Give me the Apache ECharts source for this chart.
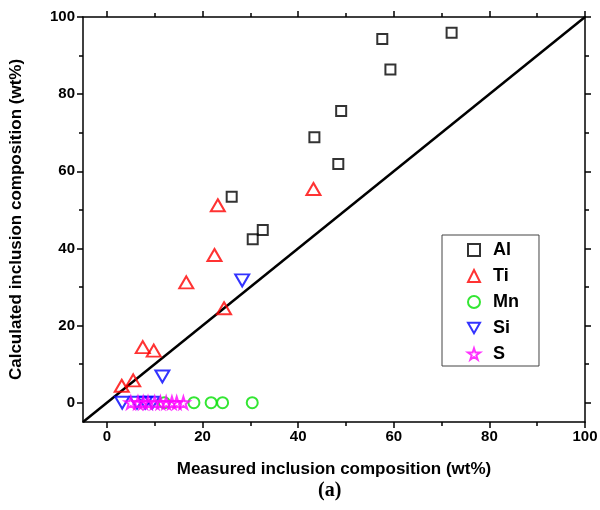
<!DOCTYPE html>
<html>
<head>
<meta charset="utf-8">
<script src="https://cdn.jsdelivr.net/npm/echarts@6/dist/echarts.min.js"></script>
<style>
  html, body { margin: 0; padding: 0; background: #fff; }
  #main { width: 600px; height: 510px; }
</style>
</head>
<body>
<div id="main"></div>
<script>
// measured vs calculated composition (wt%)
const alData = [[57.6, 94.3], [72.1, 95.9], [59.3, 86.4], [49.0, 75.6], [43.4, 68.8],
  [48.4, 61.9], [26.1, 53.4], [32.6, 44.8], [30.5, 42.4]];
const tiData = [[43.2, 55.4], [23.2, 51.2], [22.5, 38.3], [16.6, 31.2], [24.5, 24.5],
  [7.5, 14.4], [9.8, 13.5], [5.5, 5.8], [3.1, 4.4]];
const mnData = [[12, 0], [18.2, 0], [21.8, 0], [24.2, 0], [30.4, 0]];
const siData = [[28.3, 31.7], [11.6, 6.8], [3.2, 0], [6.3, 0], [8, 0], [9.5, 0]];
const sData = [[5, 0], [6.5, 0], [7.6, 0], [8.6, 0], [10, 0], [11.2, 0], [12.4, 0],
  [13.6, 0], [14.6, 0], [16, 0]];
const diagonal = [[-5, -5], [100, 100]];

const majorTicks = [0, 20, 40, 60, 80, 100];
const minorTicks = [10, 30, 50, 70, 90];

const starPath = 'path://M50,2 L61,36 L97,36 L68,57 L79,92 L50,71 L21,92 L32,57 L3,36 L39,36 Z';
const downTriangle = 'path://M0,0 L14,0 L7,12 Z';

const myChart = echarts.init(document.getElementById('main'), null, { renderer: 'canvas' });

const lineStyle = { color: '#000', width: 1.5 };
const labelFont = { fontFamily: 'Liberation Sans, Arial', fontWeight: 'bold', fontSize: 15, color: '#000' };

function makeAxis(pos, ticks, len, showLine, opts) {
  return Object.assign({
    type: 'value',
    position: pos,
    min: -5,
    max: 100,
    splitLine: { show: false },
    axisLine: { show: showLine, onZero: false, lineStyle: lineStyle },
    axisTick: { show: true, customValues: ticks, length: len, lineStyle: lineStyle },
    axisLabel: { show: false }
  }, opts || {});
}

const hollow = (c) => ({ color: 'rgba(0,0,0,0)', borderColor: c, borderWidth: 2 });
const nameFont = { fontFamily: 'Liberation Sans, Arial', fontWeight: 'bold', fontSize: 17, color: '#000' };

const option = {
  animation: false,
  grid: { left: 83, right: 15, top: 17, bottom: 88, outerBoundsMode: 'none', containLabel: false },
  legend: {
    orient: 'vertical',
    left: 442,
    top: 235,
    data: ['Al', 'Ti', 'Mn', 'Si', 'S'],
    borderColor: '#444',
    borderWidth: 1,
    padding: [6, 20, 3, 25],
    itemWidth: 12,
    itemHeight: 12,
    itemGap: 8,
    textStyle: {
      fontFamily: 'Liberation Sans, Arial', fontWeight: 'bold', fontSize: 18, color: '#000',
      padding: [0, 0, 0, 8]
    }
  },
  xAxis: [
    makeAxis('bottom', majorTicks, 6, true, {
      axisLabel: Object.assign({ show: true, customValues: majorTicks, margin: 7 }, labelFont),
      name: 'Measured inclusion composition (wt%)',
      nameLocation: 'middle',
      nameGap: 39,
      nameTextStyle: nameFont
    }),
    makeAxis('bottom', minorTicks, 4, false),
    makeAxis('top', majorTicks, 6, true),
    makeAxis('top', minorTicks, 4, false)
  ],
  yAxis: [
    makeAxis('left', majorTicks, 6, true, {
      axisLabel: Object.assign({ show: true, customValues: majorTicks, margin: 8 }, labelFont),
      name: 'Calculated inclusion composition (wt%)',
      nameLocation: 'middle',
      nameGap: 58,
      nameTextStyle: nameFont
    }),
    makeAxis('left', minorTicks, 4, false),
    makeAxis('right', majorTicks, 6, true),
    makeAxis('right', minorTicks, 4, false)
  ],
  graphic: [{
    type: 'text',
    left: 318,
    top: 481,
    style: { text: '(a)', font: 'bold 20px "Liberation Serif", serif', fill: '#000' }
  }],
  series: [
    {
      name: 'y=x', type: 'line', data: diagonal, showSymbol: false, silent: true,
      lineStyle: { color: '#000', width: 2.5 }, z: 1
    },
    { name: 'Mn', type: 'scatter', symbol: 'circle', symbolSize: 11, data: mnData, itemStyle: hollow('#00e000') },
    { name: 'Si', type: 'scatter', symbol: downTriangle, symbolSize: [14, 12], data: siData, itemStyle: hollow('#0000ff') },
    { name: 'Al', type: 'scatter', symbol: 'rect', symbolSize: 10, data: alData, itemStyle: hollow('#000') },
    { name: 'Ti', type: 'scatter', symbol: 'triangle', symbolSize: [14, 12], data: tiData, itemStyle: hollow('#ff0000') },
    { name: 'S', type: 'scatter', symbol: starPath, symbolSize: 12, data: sData, itemStyle: hollow('#ff00ff') }
  ]
};

myChart.setOption(option);
</script>
</body>
</html>
